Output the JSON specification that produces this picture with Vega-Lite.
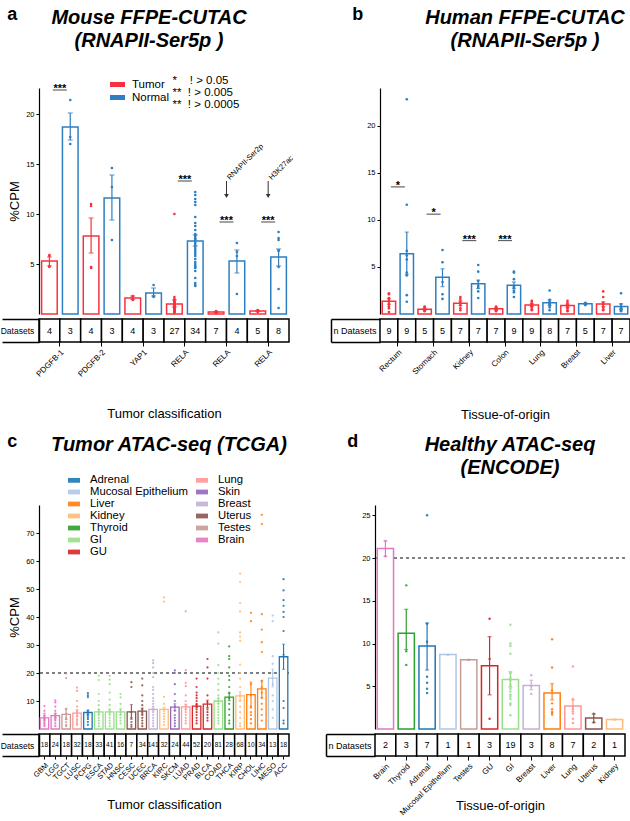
{
"$schema": "https://vega.github.io/schema/vega-lite/v6.json",
"background": "white",
"padding": {"left": 0, "top": 6, "right": 0, "bottom": 0},
"config": {
 "view": {"stroke": null},
 "font": "Liberation Sans",
 "axis": {"labelFont": "Liberation Sans", "titleFont": "Liberation Sans", "labelColor": "#000", "titleColor": "#000", "tickColor": "#000", "domainColor": "#000", "grid": false, "titleFontWeight": "normal"},
 "legend": {"labelFont": "Liberation Sans", "labelColor": "#000", "padding": 0},
 "title": {"font": "Liberation Sans", "color": "#000"}
},
"datasets": {
 "aBars": [
  {"g":"PDGFB-1","c":"Tumor","m":5.3,"lo":4.8,"hi":5.7,"n":4},
  {"g":"PDGFB-1","c":"Normal","m":18.7,"lo":17.4,"hi":20.1,"n":3},
  {"g":"PDGFB-2","c":"Tumor","m":7.8,"lo":6.1,"hi":9.6,"n":4},
  {"g":"PDGFB-2","c":"Normal","m":11.6,"lo":9.4,"hi":13.9,"n":3},
  {"g":"YAP1","c":"Tumor","m":1.6,"lo":1.45,"hi":1.8,"n":4},
  {"g":"YAP1","c":"Normal","m":2.1,"lo":1.8,"hi":2.6,"n":3},
  {"g":"RELA","c":"Tumor","m":1.0,"lo":0.7,"hi":1.4,"n":27},
  {"g":"RELA","c":"Normal","m":7.3,"lo":6.8,"hi":7.9,"n":34},
  {"g":"RELA ","c":"Tumor","m":0.2,"lo":0.15,"hi":0.25,"n":7},
  {"g":"RELA ","c":"Normal","m":5.3,"lo":4.1,"hi":6.4,"n":4},
  {"g":"RELA  ","c":"Tumor","m":0.3,"lo":0.25,"hi":0.35,"n":5},
  {"g":"RELA  ","c":"Normal","m":5.7,"lo":4.8,"hi":6.5,"n":8}
 ],
 "aDots": [
  {"g":"PDGFB-1","c":"Tumor","v":5.9},{"g":"PDGFB-1","c":"Tumor","v":5.8},{"g":"PDGFB-1","c":"Tumor","v":4.8},{"g":"PDGFB-1","c":"Tumor","v":4.7},
  {"g":"PDGFB-1","c":"Normal","v":21.4},{"g":"PDGFB-1","c":"Normal","v":17.7},{"g":"PDGFB-1","c":"Normal","v":17.0},
  {"g":"PDGFB-2","c":"Tumor","v":11.0},{"g":"PDGFB-2","c":"Tumor","v":10.8},{"g":"PDGFB-2","c":"Tumor","v":4.7},{"g":"PDGFB-2","c":"Tumor","v":4.6},
  {"g":"PDGFB-2","c":"Normal","v":14.6},{"g":"PDGFB-2","c":"Normal","v":12.7},{"g":"PDGFB-2","c":"Normal","v":7.4},
  {"g":"YAP1","c":"Tumor","v":1.8},{"g":"YAP1","c":"Tumor","v":1.7},{"g":"YAP1","c":"Tumor","v":1.5},{"g":"YAP1","c":"Tumor","v":1.4},
  {"g":"YAP1","c":"Normal","v":2.9},{"g":"YAP1","c":"Normal","v":1.8},{"g":"YAP1","c":"Normal","v":1.7},
  {"g":"RELA","c":"Tumor","v":10.0},{"g":"RELA","c":"Tumor","v":1.7},{"g":"RELA","c":"Tumor","v":1.5},{"g":"RELA","c":"Tumor","v":1.4},{"g":"RELA","c":"Tumor","v":1.3},{"g":"RELA","c":"Tumor","v":1.2},{"g":"RELA","c":"Tumor","v":1.2},{"g":"RELA","c":"Tumor","v":1.1},{"g":"RELA","c":"Tumor","v":1.0},{"g":"RELA","c":"Tumor","v":1.0},{"g":"RELA","c":"Tumor","v":0.9},{"g":"RELA","c":"Tumor","v":0.9},{"g":"RELA","c":"Tumor","v":0.8},{"g":"RELA","c":"Tumor","v":0.8},{"g":"RELA","c":"Tumor","v":0.7},{"g":"RELA","c":"Tumor","v":0.7},{"g":"RELA","c":"Tumor","v":0.6},{"g":"RELA","c":"Tumor","v":0.6},{"g":"RELA","c":"Tumor","v":0.5},{"g":"RELA","c":"Tumor","v":0.5},{"g":"RELA","c":"Tumor","v":0.4},{"g":"RELA","c":"Tumor","v":0.4},{"g":"RELA","c":"Tumor","v":0.3},{"g":"RELA","c":"Tumor","v":0.3},{"g":"RELA","c":"Tumor","v":0.2},{"g":"RELA","c":"Tumor","v":0.2},{"g":"RELA","c":"Tumor","v":0.1},
  {"g":"RELA","c":"Normal","v":12.2},{"g":"RELA","c":"Normal","v":11.9},{"g":"RELA","c":"Normal","v":11.5},{"g":"RELA","c":"Normal","v":11.2},{"g":"RELA","c":"Normal","v":10.9},{"g":"RELA","c":"Normal","v":9.7},{"g":"RELA","c":"Normal","v":9.1},{"g":"RELA","c":"Normal","v":8.8},{"g":"RELA","c":"Normal","v":8.4},{"g":"RELA","c":"Normal","v":8.0},{"g":"RELA","c":"Normal","v":7.9},{"g":"RELA","c":"Normal","v":7.8},{"g":"RELA","c":"Normal","v":7.6},{"g":"RELA","c":"Normal","v":7.5},{"g":"RELA","c":"Normal","v":7.4},{"g":"RELA","c":"Normal","v":7.2},{"g":"RELA","c":"Normal","v":7.0},{"g":"RELA","c":"Normal","v":6.8},{"g":"RELA","c":"Normal","v":6.6},{"g":"RELA","c":"Normal","v":6.4},{"g":"RELA","c":"Normal","v":6.2},{"g":"RELA","c":"Normal","v":6.0},{"g":"RELA","c":"Normal","v":5.8},{"g":"RELA","c":"Normal","v":5.5},{"g":"RELA","c":"Normal","v":5.2},{"g":"RELA","c":"Normal","v":5.0},{"g":"RELA","c":"Normal","v":4.8},{"g":"RELA","c":"Normal","v":4.7},{"g":"RELA","c":"Normal","v":4.6},{"g":"RELA","c":"Normal","v":4.3},{"g":"RELA","c":"Normal","v":3.6},{"g":"RELA","c":"Normal","v":3.1},{"g":"RELA","c":"Normal","v":2.9},{"g":"RELA","c":"Normal","v":2.8},
  {"g":"RELA ","c":"Tumor","v":0.3},{"g":"RELA ","c":"Tumor","v":0.25},{"g":"RELA ","c":"Tumor","v":0.2},{"g":"RELA ","c":"Tumor","v":0.2},{"g":"RELA ","c":"Tumor","v":0.15},{"g":"RELA ","c":"Tumor","v":0.15},{"g":"RELA ","c":"Tumor","v":0.1},
  {"g":"RELA ","c":"Normal","v":7.1},{"g":"RELA ","c":"Normal","v":6.2},{"g":"RELA ","c":"Normal","v":5.8},{"g":"RELA ","c":"Normal","v":2.0},
  {"g":"RELA  ","c":"Tumor","v":0.4},{"g":"RELA  ","c":"Tumor","v":0.35},{"g":"RELA  ","c":"Tumor","v":0.3},{"g":"RELA  ","c":"Tumor","v":0.25},{"g":"RELA  ","c":"Tumor","v":0.2},
  {"g":"RELA  ","c":"Normal","v":8.2},{"g":"RELA  ","c":"Normal","v":7.6},{"g":"RELA  ","c":"Normal","v":7.4},{"g":"RELA  ","c":"Normal","v":6.4},{"g":"RELA  ","c":"Normal","v":6.3},{"g":"RELA  ","c":"Normal","v":4.7},{"g":"RELA  ","c":"Normal","v":2.5},{"g":"RELA  ","c":"Normal","v":0.6}
 ],
 "aSig": [{"g":"PDGFB-1","y":22.4,"s":"***"},{"g":"RELA","y":13.3,"s":"***"},{"g":"RELA ","y":9.2,"s":"***"},{"g":"RELA  ","y":9.2,"s":"***"}],
 "aArr": [{"g":"RELA ","t":13.3,"b":11.8,"s":"RNAPII-Ser2p"},{"g":"RELA  ","t":13.3,"b":11.8,"s":"H3K27ac"}],
 "aKey": [{"k":"*\u00a0\u00a0\u00a0\u00a0! > 0.05"},{"k":"**\u00a0\u00a0! > 0.005"},{"k":"**\u00a0\u00a0! > 0.0005"}],
 "bBars": [
  {"g":"Rectum","c":"Tumor","m":1.35,"lo":1.05,"hi":1.65,"n":9},
  {"g":"Rectum","c":"Normal","m":6.4,"lo":4.2,"hi":8.7,"n":9},
  {"g":"Stomach","c":"Tumor","m":0.5,"lo":0.4,"hi":0.6,"n":5},
  {"g":"Stomach","c":"Normal","m":3.9,"lo":2.9,"hi":4.8,"n":5},
  {"g":"Kidney","c":"Tumor","m":1.15,"lo":0.9,"hi":1.4,"n":7},
  {"g":"Kidney","c":"Normal","m":3.2,"lo":2.7,"hi":3.6,"n":7},
  {"g":"Colon","c":"Tumor","m":0.55,"lo":0.45,"hi":0.65,"n":7},
  {"g":"Colon","c":"Normal","m":3.05,"lo":2.7,"hi":3.4,"n":9},
  {"g":"Lung","c":"Tumor","m":0.95,"lo":0.8,"hi":1.1,"n":9},
  {"g":"Lung","c":"Normal","m":1.2,"lo":0.9,"hi":1.5,"n":8},
  {"g":"Breast","c":"Tumor","m":0.9,"lo":0.7,"hi":1.05,"n":7},
  {"g":"Breast","c":"Normal","m":1.1,"lo":1.0,"hi":1.15,"n":5},
  {"g":"Liver","c":"Tumor","m":1.05,"lo":0.8,"hi":1.3,"n":7},
  {"g":"Liver","c":"Normal","m":0.8,"lo":0.5,"hi":1.1,"n":7}
 ],
 "bDots": [
  {"g":"Rectum","c":"Tumor","v":2.2},{"g":"Rectum","c":"Tumor","v":2.1},{"g":"Rectum","c":"Tumor","v":1.7},{"g":"Rectum","c":"Tumor","v":1.5},{"g":"Rectum","c":"Tumor","v":1.3},{"g":"Rectum","c":"Tumor","v":1.0},{"g":"Rectum","c":"Tumor","v":0.8},{"g":"Rectum","c":"Tumor","v":0.6},{"g":"Rectum","c":"Tumor","v":0.2},
  {"g":"Rectum","c":"Normal","v":22.8},{"g":"Rectum","c":"Normal","v":11.6},{"g":"Rectum","c":"Normal","v":6.7},{"g":"Rectum","c":"Normal","v":6.2},{"g":"Rectum","c":"Normal","v":5.8},{"g":"Rectum","c":"Normal","v":4.4},{"g":"Rectum","c":"Normal","v":4.1},{"g":"Rectum","c":"Normal","v":2.0},{"g":"Rectum","c":"Normal","v":1.3},
  {"g":"Stomach","c":"Tumor","v":0.8},{"g":"Stomach","c":"Tumor","v":0.7},{"g":"Stomach","c":"Tumor","v":0.5},{"g":"Stomach","c":"Tumor","v":0.4},{"g":"Stomach","c":"Tumor","v":0.3},
  {"g":"Stomach","c":"Normal","v":6.8},{"g":"Stomach","c":"Normal","v":5.5},{"g":"Stomach","c":"Normal","v":3.4},{"g":"Stomach","c":"Normal","v":2.1},{"g":"Stomach","c":"Normal","v":1.6},
  {"g":"Kidney","c":"Tumor","v":1.8},{"g":"Kidney","c":"Tumor","v":1.6},{"g":"Kidney","c":"Tumor","v":1.3},{"g":"Kidney","c":"Tumor","v":1.1},{"g":"Kidney","c":"Tumor","v":0.9},{"g":"Kidney","c":"Tumor","v":0.6},{"g":"Kidney","c":"Tumor","v":0.4},
  {"g":"Kidney","c":"Normal","v":5.2},{"g":"Kidney","c":"Normal","v":4.5},{"g":"Kidney","c":"Normal","v":3.5},{"g":"Kidney","c":"Normal","v":3.0},{"g":"Kidney","c":"Normal","v":2.8},{"g":"Kidney","c":"Normal","v":2.4},{"g":"Kidney","c":"Normal","v":1.7},
  {"g":"Colon","c":"Tumor","v":0.8},{"g":"Colon","c":"Tumor","v":0.7},{"g":"Colon","c":"Tumor","v":0.6},{"g":"Colon","c":"Tumor","v":0.5},{"g":"Colon","c":"Tumor","v":0.4},{"g":"Colon","c":"Tumor","v":0.4},{"g":"Colon","c":"Tumor","v":0.3},
  {"g":"Colon","c":"Normal","v":4.5},{"g":"Colon","c":"Normal","v":4.4},{"g":"Colon","c":"Normal","v":3.7},{"g":"Colon","c":"Normal","v":3.0},{"g":"Colon","c":"Normal","v":2.9},{"g":"Colon","c":"Normal","v":2.8},{"g":"Colon","c":"Normal","v":2.5},{"g":"Colon","c":"Normal","v":2.3},{"g":"Colon","c":"Normal","v":1.8},
  {"g":"Lung","c":"Tumor","v":1.4},{"g":"Lung","c":"Tumor","v":1.3},{"g":"Lung","c":"Tumor","v":1.1},{"g":"Lung","c":"Tumor","v":1.0},{"g":"Lung","c":"Tumor","v":0.9},{"g":"Lung","c":"Tumor","v":0.8},{"g":"Lung","c":"Tumor","v":0.7},{"g":"Lung","c":"Tumor","v":0.5},{"g":"Lung","c":"Tumor","v":0.4},
  {"g":"Lung","c":"Normal","v":2.5},{"g":"Lung","c":"Normal","v":1.5},{"g":"Lung","c":"Normal","v":1.3},{"g":"Lung","c":"Normal","v":1.1},{"g":"Lung","c":"Normal","v":1.0},{"g":"Lung","c":"Normal","v":0.9},{"g":"Lung","c":"Normal","v":0.7},{"g":"Lung","c":"Normal","v":0.4},
  {"g":"Breast","c":"Tumor","v":1.4},{"g":"Breast","c":"Tumor","v":1.2},{"g":"Breast","c":"Tumor","v":1.0},{"g":"Breast","c":"Tumor","v":0.8},{"g":"Breast","c":"Tumor","v":0.6},{"g":"Breast","c":"Tumor","v":0.4},{"g":"Breast","c":"Tumor","v":0.3},
  {"g":"Breast","c":"Normal","v":1.2},{"g":"Breast","c":"Normal","v":1.1},{"g":"Breast","c":"Normal","v":1.05},{"g":"Breast","c":"Normal","v":1.0},{"g":"Breast","c":"Normal","v":0.95},
  {"g":"Liver","c":"Tumor","v":2.4},{"g":"Liver","c":"Tumor","v":1.8},{"g":"Liver","c":"Tumor","v":1.2},{"g":"Liver","c":"Tumor","v":1.0},{"g":"Liver","c":"Tumor","v":0.7},{"g":"Liver","c":"Tumor","v":0.5},{"g":"Liver","c":"Tumor","v":0.4},
  {"g":"Liver","c":"Normal","v":2.2},{"g":"Liver","c":"Normal","v":1.0},{"g":"Liver","c":"Normal","v":0.7},{"g":"Liver","c":"Normal","v":0.6},{"g":"Liver","c":"Normal","v":0.5},{"g":"Liver","c":"Normal","v":0.4},{"g":"Liver","c":"Normal","v":0.3}
 ],
 "bSig": [{"g":"Rectum","y":13.5,"s":"*"},{"g":"Stomach","y":10.6,"s":"*"},{"g":"Kidney","y":7.8,"s":"***"},{"g":"Colon","y":7.8,"s":"***"}],
 "cBars": [
  {"t":"GBM","s":"Brain","m":4.0,"lo":3.2,"hi":4.8,"n":18},
  {"t":"LGG","s":"Brain","m":4.8,"lo":4.0,"hi":5.6,"n":24},
  {"t":"TGCT","s":"Testes","m":5.2,"lo":3.4,"hi":7.4,"n":18},
  {"t":"LUSC","s":"Lung","m":5.7,"lo":4.6,"hi":6.9,"n":32},
  {"t":"PCPG","s":"Adrenal","m":5.9,"lo":5.0,"hi":6.8,"n":18},
  {"t":"ESCA","s":"GI","m":6.1,"lo":5.3,"hi":6.9,"n":33},
  {"t":"STAD","s":"GI","m":6.1,"lo":5.4,"hi":6.8,"n":41},
  {"t":"HNSC","s":"GI","m":6.1,"lo":5.1,"hi":7.1,"n":16},
  {"t":"CESC","s":"Uterus","m":6.1,"lo":3.5,"hi":8.7,"n":7},
  {"t":"UCEC","s":"Uterus","m":6.4,"lo":5.3,"hi":7.5,"n":34},
  {"t":"BRCA","s":"Breast","m":7.0,"lo":6.5,"hi":7.5,"n":141},
  {"t":"KIRC","s":"Kidney","m":7.0,"lo":6.3,"hi":7.8,"n":32},
  {"t":"SKCM","s":"Skin","m":7.8,"lo":6.6,"hi":9.0,"n":24},
  {"t":"LUAD","s":"Lung","m":7.9,"lo":6.9,"hi":8.9,"n":44},
  {"t":"PRAD","s":"GU","m":8.2,"lo":7.6,"hi":8.8,"n":52},
  {"t":"BLCA","s":"GU","m":8.9,"lo":7.6,"hi":10.3,"n":20},
  {"t":"COAD","s":"GI","m":10.0,"lo":9.1,"hi":10.9,"n":81},
  {"t":"THCA","s":"Thyroid","m":11.4,"lo":10.1,"hi":12.7,"n":28},
  {"t":"KIRP","s":"Kidney","m":11.8,"lo":10.2,"hi":13.3,"n":68},
  {"t":"CHOL","s":"Liver","m":12.3,"lo":7.5,"hi":16.8,"n":10},
  {"t":"LIHC","s":"Liver","m":14.3,"lo":11.3,"hi":17.4,"n":34},
  {"t":"MESO","s":"Mucosal Epithelium","m":18.2,"lo":15.0,"hi":21.4,"n":13},
  {"t":"ACC","s":"Adrenal","m":25.8,"lo":21.3,"hi":30.3,"n":18}
 ],
 "cDots": [
  {"t":"GBM","v":8.2},{"t":"GBM","v":6.5},{"t":"GBM","v":5.5},{"t":"GBM","v":4.8},{"t":"GBM","v":4.2},{"t":"GBM","v":3.8},{"t":"GBM","v":3.5},{"t":"GBM","v":3.0},{"t":"GBM","v":2.5},{"t":"GBM","v":2.0},{"t":"GBM","v":1.5},{"t":"GBM","v":1.0},
  {"t":"LGG","v":10.2},{"t":"LGG","v":9.5},{"t":"LGG","v":8.0},{"t":"LGG","v":6.5},{"t":"LGG","v":5.5},{"t":"LGG","v":5.0},{"t":"LGG","v":4.5},{"t":"LGG","v":4.0},{"t":"LGG","v":3.5},{"t":"LGG","v":3.0},{"t":"LGG","v":2.0},{"t":"LGG","v":1.0},
  {"t":"TGCT","v":19.8},{"t":"TGCT","v":18.2},{"t":"TGCT","v":7.0},{"t":"TGCT","v":5.5},{"t":"TGCT","v":4.0},{"t":"TGCT","v":3.5},{"t":"TGCT","v":2.5},{"t":"TGCT","v":1.5},{"t":"TGCT","v":1.0},
  {"t":"LUSC","v":14.8},{"t":"LUSC","v":13.6},{"t":"LUSC","v":10.0},{"t":"LUSC","v":8.0},{"t":"LUSC","v":6.5},{"t":"LUSC","v":5.5},{"t":"LUSC","v":4.5},{"t":"LUSC","v":3.5},{"t":"LUSC","v":2.8},{"t":"LUSC","v":2.0},{"t":"LUSC","v":1.5},
  {"t":"PCPG","v":12.8},{"t":"PCPG","v":12.0},{"t":"PCPG","v":11.4},{"t":"PCPG","v":6.4},{"t":"PCPG","v":5.8},{"t":"PCPG","v":5.0},{"t":"PCPG","v":4.2},{"t":"PCPG","v":3.5},{"t":"PCPG","v":2.5},{"t":"PCPG","v":1.5},
  {"t":"ESCA","v":19.0},{"t":"ESCA","v":17.5},{"t":"ESCA","v":12.5},{"t":"ESCA","v":10.0},{"t":"ESCA","v":8.5},{"t":"ESCA","v":7.0},{"t":"ESCA","v":6.0},{"t":"ESCA","v":5.0},{"t":"ESCA","v":4.0},{"t":"ESCA","v":3.0},{"t":"ESCA","v":2.0},{"t":"ESCA","v":1.0},
  {"t":"STAD","v":19.0},{"t":"STAD","v":17.6},{"t":"STAD","v":16.0},{"t":"STAD","v":13.0},{"t":"STAD","v":10.5},{"t":"STAD","v":8.5},{"t":"STAD","v":7.0},{"t":"STAD","v":6.0},{"t":"STAD","v":5.0},{"t":"STAD","v":4.0},{"t":"STAD","v":3.0},{"t":"STAD","v":2.0},{"t":"STAD","v":1.0},
  {"t":"HNSC","v":12.5},{"t":"HNSC","v":11.3},{"t":"HNSC","v":9.0},{"t":"HNSC","v":7.0},{"t":"HNSC","v":6.0},{"t":"HNSC","v":5.0},{"t":"HNSC","v":4.0},{"t":"HNSC","v":3.0},{"t":"HNSC","v":2.0},
  {"t":"CESC","v":16.7},{"t":"CESC","v":15.0},{"t":"CESC","v":6.0},{"t":"CESC","v":4.0},{"t":"CESC","v":2.5},{"t":"CESC","v":1.5},{"t":"CESC","v":0.8},
  {"t":"UCEC","v":18.0},{"t":"UCEC","v":15.6},{"t":"UCEC","v":12.0},{"t":"UCEC","v":10.0},{"t":"UCEC","v":8.5},{"t":"UCEC","v":7.0},{"t":"UCEC","v":6.0},{"t":"UCEC","v":5.0},{"t":"UCEC","v":4.0},{"t":"UCEC","v":3.0},{"t":"UCEC","v":2.0},{"t":"UCEC","v":1.0},
  {"t":"BRCA","v":24.5},{"t":"BRCA","v":23.5},{"t":"BRCA","v":22.0},{"t":"BRCA","v":20.0},{"t":"BRCA","v":18.5},{"t":"BRCA","v":15.0},{"t":"BRCA","v":14.0},{"t":"BRCA","v":12.5},{"t":"BRCA","v":11.0},{"t":"BRCA","v":10.0},{"t":"BRCA","v":9.0},{"t":"BRCA","v":8.0},{"t":"BRCA","v":7.0},{"t":"BRCA","v":6.0},{"t":"BRCA","v":5.0},{"t":"BRCA","v":4.0},{"t":"BRCA","v":3.0},{"t":"BRCA","v":2.0},{"t":"BRCA","v":1.0},
  {"t":"KIRC","v":47.0},{"t":"KIRC","v":45.5},{"t":"KIRC","v":11.5},{"t":"KIRC","v":9.0},{"t":"KIRC","v":7.0},{"t":"KIRC","v":5.5},{"t":"KIRC","v":4.5},{"t":"KIRC","v":3.5},{"t":"KIRC","v":2.5},{"t":"KIRC","v":1.5},
  {"t":"SKCM","v":20.9},{"t":"SKCM","v":20.0},{"t":"SKCM","v":16.0},{"t":"SKCM","v":12.5},{"t":"SKCM","v":10.0},{"t":"SKCM","v":8.0},{"t":"SKCM","v":6.5},{"t":"SKCM","v":5.0},{"t":"SKCM","v":4.0},{"t":"SKCM","v":3.0},{"t":"SKCM","v":2.0},{"t":"SKCM","v":1.0},
  {"t":"LUAD","v":42.0},{"t":"LUAD","v":21.0},{"t":"LUAD","v":16.5},{"t":"LUAD","v":15.3},{"t":"LUAD","v":12.0},{"t":"LUAD","v":10.0},{"t":"LUAD","v":8.5},{"t":"LUAD","v":7.0},{"t":"LUAD","v":6.0},{"t":"LUAD","v":5.0},{"t":"LUAD","v":4.0},{"t":"LUAD","v":3.0},{"t":"LUAD","v":2.0},
  {"t":"PRAD","v":18.0},{"t":"PRAD","v":15.0},{"t":"PRAD","v":13.0},{"t":"PRAD","v":12.0},{"t":"PRAD","v":11.0},{"t":"PRAD","v":10.0},{"t":"PRAD","v":9.0},{"t":"PRAD","v":8.0},{"t":"PRAD","v":7.0},{"t":"PRAD","v":6.0},{"t":"PRAD","v":5.0},{"t":"PRAD","v":4.0},{"t":"PRAD","v":3.0},{"t":"PRAD","v":2.0},
  {"t":"BLCA","v":25.0},{"t":"BLCA","v":22.0},{"t":"BLCA","v":18.0},{"t":"BLCA","v":12.0},{"t":"BLCA","v":9.5},{"t":"BLCA","v":7.0},{"t":"BLCA","v":6.0},{"t":"BLCA","v":5.0},{"t":"BLCA","v":4.0},{"t":"BLCA","v":3.0},
  {"t":"COAD","v":34.5},{"t":"COAD","v":30.5},{"t":"COAD","v":22.8},{"t":"COAD","v":20.0},{"t":"COAD","v":18.0},{"t":"COAD","v":16.0},{"t":"COAD","v":14.0},{"t":"COAD","v":12.0},{"t":"COAD","v":11.0},{"t":"COAD","v":10.0},{"t":"COAD","v":9.0},{"t":"COAD","v":8.0},{"t":"COAD","v":7.0},{"t":"COAD","v":6.0},{"t":"COAD","v":5.0},{"t":"COAD","v":4.0},{"t":"COAD","v":3.0},{"t":"COAD","v":2.0},
  {"t":"THCA","v":29.5},{"t":"THCA","v":26.0},{"t":"THCA","v":25.0},{"t":"THCA","v":22.0},{"t":"THCA","v":19.0},{"t":"THCA","v":17.5},{"t":"THCA","v":15.0},{"t":"THCA","v":13.0},{"t":"THCA","v":11.0},{"t":"THCA","v":9.0},{"t":"THCA","v":7.0},{"t":"THCA","v":5.0},{"t":"THCA","v":3.0},{"t":"THCA","v":2.0},
  {"t":"KIRP","v":55.5},{"t":"KIRP","v":52.5},{"t":"KIRP","v":45.0},{"t":"KIRP","v":42.0},{"t":"KIRP","v":34.5},{"t":"KIRP","v":33.0},{"t":"KIRP","v":31.5},{"t":"KIRP","v":23.0},{"t":"KIRP","v":20.0},{"t":"KIRP","v":18.0},{"t":"KIRP","v":15.0},{"t":"KIRP","v":12.0},{"t":"KIRP","v":10.0},{"t":"KIRP","v":8.0},{"t":"KIRP","v":6.0},{"t":"KIRP","v":4.0},{"t":"KIRP","v":2.0},{"t":"KIRP","v":1.0},
  {"t":"CHOL","v":41.5},{"t":"CHOL","v":38.5},{"t":"CHOL","v":16.0},{"t":"CHOL","v":12.0},{"t":"CHOL","v":8.0},{"t":"CHOL","v":6.0},{"t":"CHOL","v":5.0},{"t":"CHOL","v":3.5},{"t":"CHOL","v":2.0},
  {"t":"LIHC","v":76.5},{"t":"LIHC","v":73.2},{"t":"LIHC","v":41.0},{"t":"LIHC","v":35.5},{"t":"LIHC","v":31.0},{"t":"LIHC","v":27.5},{"t":"LIHC","v":17.0},{"t":"LIHC","v":15.0},{"t":"LIHC","v":13.0},{"t":"LIHC","v":11.0},{"t":"LIHC","v":9.0},{"t":"LIHC","v":7.0},{"t":"LIHC","v":5.0},{"t":"LIHC","v":3.0},
  {"t":"MESO","v":40.5},{"t":"MESO","v":38.5},{"t":"MESO","v":26.0},{"t":"MESO","v":23.3},{"t":"MESO","v":20.0},{"t":"MESO","v":16.0},{"t":"MESO","v":12.0},{"t":"MESO","v":10.0},{"t":"MESO","v":7.0},{"t":"MESO","v":4.0},
  {"t":"ACC","v":53.5},{"t":"ACC","v":49.5},{"t":"ACC","v":46.0},{"t":"ACC","v":44.0},{"t":"ACC","v":41.8},{"t":"ACC","v":40.0},{"t":"ACC","v":35.0},{"t":"ACC","v":26.5},{"t":"ACC","v":10.0},{"t":"ACC","v":7.5},{"t":"ACC","v":3.0},{"t":"ACC","v":2.0}
 ],
 "dBars": [
  {"s":"Brain","m":21.1,"lo":20.2,"hi":22.0,"n":2},
  {"s":"Thyroid","m":11.2,"lo":9.3,"hi":14.0,"n":3},
  {"s":"Adrenal","m":9.7,"lo":6.9,"hi":12.4,"n":7},
  {"s":"Mucosal Epithelium","m":8.7,"lo":8.7,"hi":8.7,"n":1},
  {"s":"Testes","m":8.1,"lo":8.1,"hi":8.1,"n":1},
  {"s":"GU","m":7.4,"lo":4.0,"hi":10.8,"n":3},
  {"s":"GI","m":5.8,"lo":4.9,"hi":6.7,"n":19},
  {"s":"Breast","m":5.1,"lo":4.6,"hi":5.7,"n":3},
  {"s":"Liver","m":4.2,"lo":3.4,"hi":5.3,"n":8},
  {"s":"Lung","m":2.7,"lo":2.0,"hi":3.4,"n":7},
  {"s":"Uterus","m":1.3,"lo":0.75,"hi":1.75,"n":2},
  {"s":"Kidney","m":1.1,"lo":1.1,"hi":1.1,"n":1}
 ],
 "dDots": [
  {"s":"Brain","v":22.0},{"s":"Brain","v":20.2},
  {"s":"Thyroid","v":16.8},{"s":"Thyroid","v":9.1},{"s":"Thyroid","v":7.5},
  {"s":"Adrenal","v":25.0},{"s":"Adrenal","v":12.3},{"s":"Adrenal","v":10.2},{"s":"Adrenal","v":6.1},{"s":"Adrenal","v":5.4},{"s":"Adrenal","v":4.7},{"s":"Adrenal","v":4.2},
  {"s":"Mucosal Epithelium","v":8.7},
  {"s":"Testes","v":8.1},
  {"s":"GU","v":12.9},{"s":"GU","v":8.2},{"s":"GU","v":1.2},
  {"s":"GI","v":12.2},{"s":"GI","v":10.0},{"s":"GI","v":9.7},{"s":"GI","v":8.8},{"s":"GI","v":6.6},{"s":"GI","v":6.5},{"s":"GI","v":6.0},{"s":"GI","v":5.8},{"s":"GI","v":5.6},{"s":"GI","v":5.2},{"s":"GI","v":5.0},{"s":"GI","v":4.7},{"s":"GI","v":4.4},{"s":"GI","v":4.0},{"s":"GI","v":3.8},{"s":"GI","v":3.5},{"s":"GI","v":3.0},{"s":"GI","v":2.8},{"s":"GI","v":1.6},
  {"s":"Breast","v":6.3},{"s":"Breast","v":5.0},{"s":"Breast","v":4.1},
  {"s":"Liver","v":10.5},{"s":"Liver","v":7.2},{"s":"Liver","v":4.5},{"s":"Liver","v":3.0},{"s":"Liver","v":2.3},{"s":"Liver","v":2.0},{"s":"Liver","v":1.9},{"s":"Liver","v":1.7},
  {"s":"Lung","v":7.3},{"s":"Lung","v":3.5},{"s":"Lung","v":2.6},{"s":"Lung","v":2.3},{"s":"Lung","v":1.8},{"s":"Lung","v":1.2},{"s":"Lung","v":0.7},
  {"s":"Uterus","v":1.8},{"s":"Uterus","v":0.8},
  {"s":"Kidney","v":1.1}
 ],
 "thr": [{"y":20}]
},
"vconcat": [
 {"hconcat": [
  {"title": {"text": "a", "anchor": "start", "fontSize": 18, "fontWeight": "bold", "dx": 7, "dy": 16, "offset": 0},
   "spacing": 0,
   "resolve": {"scale": {"x": "independent", "y": "independent", "xOffset": "independent", "color": "independent", "stroke": "independent", "shape": "independent"}},
   "vconcat": [
    {"width": 250, "height": 226,
     "title": {"text": ["Mouse FFPE-CUTAC", "(RNAPII-Ser5p )"], "fontSize": 20, "fontStyle": "italic", "fontWeight": "bold", "lineHeight": 23, "anchor": "middle", "frame": "group", "dx": -15, "offset": 24},
     "resolve": {"axis": {"y": "independent"}, "legend": {"color": "independent"}},
     "layer": [
      {"data": {"name": "aBars"}, "mark": {"type": "bar", "fill": "white", "strokeWidth": 1.5},
       "encoding": {
        "x": {"field": "g", "type": "nominal", "scale": {"domain": ["PDGFB-1","PDGFB-2","YAP1","RELA","RELA ","RELA  "], "paddingInner": 0, "paddingOuter": 0}, "axis": null},
        "xOffset": {"field": "c", "type": "nominal", "scale": {"domain": ["Tumor","Normal"], "paddingInner": 0.25, "paddingOuter": 0.125}},
        "y": {"field": "m", "type": "quantitative", "scale": {"domain": [0, 22.6], "nice": false}, "axis": {"values": [5,10,15,20], "title": "%CPM", "titleFontSize": 13, "labelFontSize": 7.5, "tickSize": 3, "labelPadding": 2, "titlePadding": 4, "domainWidth": 1.2}},
        "stroke": {"field": "c", "type": "nominal", "scale": {"domain": ["Tumor","Normal"], "range": ["#f7323e","#2d7fc1"]}, "legend": null}}},
      {"data": {"name": "aBars"}, "mark": {"type": "rule", "strokeWidth": 1.2},
       "encoding": {
        "x": {"field": "g", "type": "nominal", "axis": null},
        "xOffset": {"field": "c", "type": "nominal"},
        "y": {"field": "lo", "type": "quantitative", "axis": null}, "y2": {"field": "hi"},
        "color": {"field": "c", "type": "nominal", "scale": {"domain": ["Tumor","Normal"], "range": ["#f7323e","#2d7fc1"]}, "legend": null}}},
      {"data": {"name": "aBars"}, "mark": {"type": "tick", "size": 5, "thickness": 1.2},
       "encoding": {
        "x": {"field": "g", "type": "nominal", "axis": null},
        "xOffset": {"field": "c", "type": "nominal"},
        "y": {"field": "lo", "type": "quantitative", "axis": null},
        "color": {"field": "c", "type": "nominal", "legend": null}}},
      {"data": {"name": "aBars"}, "mark": {"type": "tick", "size": 5, "thickness": 1.2},
       "encoding": {
        "x": {"field": "g", "type": "nominal", "axis": null},
        "xOffset": {"field": "c", "type": "nominal"},
        "y": {"field": "hi", "type": "quantitative", "axis": null},
        "color": {"field": "c", "type": "nominal", "legend": null}}},
      {"data": {"name": "aDots"}, "mark": {"type": "circle", "size": 7, "opacity": 1},
       "encoding": {
        "x": {"field": "g", "type": "nominal", "axis": null},
        "xOffset": {"field": "c", "type": "nominal"},
        "y": {"field": "v", "type": "quantitative", "axis": null},
        "color": {"field": "c", "type": "nominal", "legend": {"title": null, "orient": "none", "legendX": 71, "legendY": -11, "symbolType": "M-1,-0.33H1V0.33H-1Z", "symbolSize": 225, "symbolStrokeWidth": 0, "labelFontSize": 11.5, "rowPadding": -2, "labelOffset": 7}}}},
      {"data": {"name": "aSig"}, "mark": {"type": "tick", "size": 14, "thickness": 1.2, "color": "#222"},
       "encoding": {"x": {"field": "g", "type": "nominal", "axis": null}, "y": {"field": "y", "type": "quantitative", "axis": null}}},
      {"data": {"name": "aSig"}, "mark": {"type": "text", "fontSize": 11, "fontWeight": "bold", "baseline": "alphabetic", "dy": 2},
       "encoding": {"x": {"field": "g", "type": "nominal", "axis": null}, "y": {"field": "y", "type": "quantitative", "axis": null}, "text": {"field": "s"}}},
      {"data": {"name": "aArr"}, "mark": {"type": "rule", "strokeWidth": 1, "color": "#333"},
       "encoding": {"x": {"field": "g", "type": "nominal", "axis": null}, "y": {"field": "t", "type": "quantitative", "axis": null}, "y2": {"field": "b"}}},
      {"data": {"name": "aArr"}, "mark": {"type": "point", "shape": "triangle-down", "filled": true, "size": 22, "color": "#333", "opacity": 1},
       "encoding": {"x": {"field": "g", "type": "nominal", "axis": null}, "y": {"field": "b", "type": "quantitative", "axis": null}}},
      {"data": {"name": "aArr"}, "mark": {"type": "text", "angle": 315, "align": "left", "baseline": "middle", "fontSize": 7.5, "dx": 3},
       "encoding": {"x": {"field": "g", "type": "nominal", "axis": null}, "y": {"field": "t", "type": "quantitative", "axis": null}, "text": {"field": "s"}}},
      {"data": {"name": "aKey"}, "mark": {"type": "point", "opacity": 0},
       "encoding": {"shape": {"field": "k", "type": "nominal", "scale": {"domain": ["*\u00a0\u00a0\u00a0\u00a0! > 0.05","**\u00a0\u00a0! > 0.005","**\u00a0\u00a0! > 0.0005"]}, "legend": {"title": null, "orient": "none", "legendX": 122, "legendY": -13, "symbolOpacity": 0, "symbolSize": 1, "labelFontSize": 11.5, "rowPadding": -2, "labelOffset": 0}}}}
     ]},
    {"width": 250, "height": 23, "data": {"name": "aBars"},
     "encoding": {
      "x": {"field": "g", "type": "nominal", "scale": {"domain": ["PDGFB-1","PDGFB-2","YAP1","RELA","RELA ","RELA  "], "paddingInner": 0, "paddingOuter": 0}, "axis": {"labelAngle": -45, "labelFontSize": 8, "title": "Tumor classification", "titleFontSize": 13, "titleY": 65, "domain": false, "tickSize": 4, "labelPadding": 2}},
      "xOffset": {"field": "c", "type": "nominal", "scale": {"domain": ["Tumor","Normal"], "paddingInner": 0, "paddingOuter": 0}},
      "y": {"datum": "Datasets", "type": "nominal", "scale": {"paddingInner": 0, "paddingOuter": 0}, "axis": {"title": null, "tickBand": "extent", "tickSize": 37, "tickWidth": 1.5, "domain": true, "domainWidth": 1.5, "labelAlign": "center", "labelPadding": -15, "labelFontSize": 8.5, "labelBaseline": "middle"}}},
     "layer": [
      {"mark": {"type": "rect", "fill": "white", "stroke": "#000", "strokeWidth": 1.5}},
      {"mark": {"type": "text", "fontSize": 9, "color": "#000"}, "encoding": {"text": {"field": "n"}}}
     ]}
   ]},
  {"title": {"text": "b", "anchor": "start", "fontSize": 18, "fontWeight": "bold", "dx": 22, "dy": 16, "offset": 0},
   "spacing": 0,
   "resolve": {"scale": {"x": "independent", "y": "independent", "xOffset": "independent", "color": "independent", "stroke": "independent"}},
   "vconcat": [
    {"width": 250, "height": 226,
     "title": {"text": ["Human FFPE-CUTAC", "(RNAPII-Ser5p )"], "fontSize": 20, "fontStyle": "italic", "fontWeight": "bold", "lineHeight": 23, "anchor": "middle", "frame": "group", "dx": 20, "offset": 37},
     "resolve": {"axis": {"y": "independent"}},
     "layer": [
      {"data": {"name": "bBars"}, "mark": {"type": "bar", "fill": "white", "strokeWidth": 1.5},
       "encoding": {
        "x": {"field": "g", "type": "nominal", "scale": {"domain": ["Rectum","Stomach","Kidney","Colon","Lung","Breast","Liver"], "paddingInner": 0, "paddingOuter": 0}, "axis": null},
        "xOffset": {"field": "c", "type": "nominal", "scale": {"domain": ["Tumor","Normal"], "paddingInner": 0.25, "paddingOuter": 0.125}},
        "y": {"field": "m", "type": "quantitative", "scale": {"domain": [0, 24], "nice": false}, "axis": {"values": [5,10,15,20], "title": null, "labelFontSize": 7.5, "tickSize": 3, "labelPadding": 2, "domainWidth": 1.2}},
        "stroke": {"field": "c", "type": "nominal", "scale": {"domain": ["Tumor","Normal"], "range": ["#f7323e","#2d7fc1"]}, "legend": null}}},
      {"data": {"name": "bBars"}, "mark": {"type": "rule", "strokeWidth": 1.2},
       "encoding": {
        "x": {"field": "g", "type": "nominal", "axis": null},
        "xOffset": {"field": "c", "type": "nominal"},
        "y": {"field": "lo", "type": "quantitative", "axis": null}, "y2": {"field": "hi"},
        "color": {"field": "c", "type": "nominal", "scale": {"domain": ["Tumor","Normal"], "range": ["#f7323e","#2d7fc1"]}, "legend": null}}},
      {"data": {"name": "bBars"}, "mark": {"type": "tick", "size": 4, "thickness": 1.2},
       "encoding": {"x": {"field": "g", "type": "nominal", "axis": null}, "xOffset": {"field": "c", "type": "nominal"}, "y": {"field": "lo", "type": "quantitative", "axis": null}, "color": {"field": "c", "type": "nominal", "legend": null}}},
      {"data": {"name": "bBars"}, "mark": {"type": "tick", "size": 4, "thickness": 1.2},
       "encoding": {"x": {"field": "g", "type": "nominal", "axis": null}, "xOffset": {"field": "c", "type": "nominal"}, "y": {"field": "hi", "type": "quantitative", "axis": null}, "color": {"field": "c", "type": "nominal", "legend": null}}},
      {"data": {"name": "bDots"}, "mark": {"type": "circle", "size": 7, "opacity": 1},
       "encoding": {"x": {"field": "g", "type": "nominal", "axis": null}, "xOffset": {"field": "c", "type": "nominal"}, "y": {"field": "v", "type": "quantitative", "axis": null}, "color": {"field": "c", "type": "nominal", "legend": null}}},
      {"data": {"name": "bSig"}, "mark": {"type": "tick", "size": 14, "thickness": 1.2, "color": "#222"},
       "encoding": {"x": {"field": "g", "type": "nominal", "axis": null}, "y": {"field": "y", "type": "quantitative", "axis": null}}},
      {"data": {"name": "bSig"}, "mark": {"type": "text", "fontSize": 11, "fontWeight": "bold", "baseline": "alphabetic", "dy": 2},
       "encoding": {"x": {"field": "g", "type": "nominal", "axis": null}, "y": {"field": "y", "type": "quantitative", "axis": null}, "text": {"field": "s"}}}
     ]},
    {"width": 250, "height": 23, "data": {"name": "bBars"},
     "encoding": {
      "x": {"field": "g", "type": "nominal", "scale": {"domain": ["Rectum","Stomach","Kidney","Colon","Lung","Breast","Liver"], "paddingInner": 0, "paddingOuter": 0}, "axis": {"labelAngle": -45, "labelFontSize": 8, "title": "Tissue-of-origin", "titleFontSize": 13, "titleY": 66, "domain": false, "tickSize": 4, "labelPadding": 2}},
      "xOffset": {"field": "c", "type": "nominal", "scale": {"domain": ["Tumor","Normal"], "paddingInner": 0, "paddingOuter": 0}},
      "y": {"datum": "n Datasets", "type": "nominal", "scale": {"paddingInner": 0, "paddingOuter": 0}, "axis": {"title": null, "tickBand": "extent", "offset": 49, "tickSize": -49, "tickWidth": 1.5, "domain": true, "domainWidth": 1.5, "labelAlign": "center", "labelPadding": 25.5, "labelFontSize": 9, "labelBaseline": "middle"}}},
     "layer": [
      {"mark": {"type": "rect", "fill": "white", "stroke": "#000", "strokeWidth": 1.5}},
      {"mark": {"type": "text", "fontSize": 9, "color": "#000"}, "encoding": {"text": {"field": "n"}}}
     ]}
   ]}
 ], "spacing": 35,
 "resolve": {"scale": {"x": "independent", "y": "independent", "color": "independent", "stroke": "independent"}}},
 {"hconcat": [
  {"title": {"text": "c", "anchor": "start", "fontSize": 18, "fontWeight": "bold", "dx": 7, "dy": 16, "offset": 0},
   "spacing": 0,
   "resolve": {"scale": {"x": "independent", "y": "independent", "color": "independent", "stroke": "independent"}},
   "vconcat": [
    {"width": 250, "height": 224,
     "title": {"text": "Tumor ATAC-seq (TCGA)", "fontSize": 20, "fontStyle": "italic", "fontWeight": "bold", "anchor": "middle", "frame": "group", "dx": 5, "offset": 19},
     "resolve": {"axis": {"y": "independent"}, "legend": {"color": "independent"}},
     "layer": [
      {"data": {"name": "thr"}, "mark": {"type": "rule", "strokeDash": [3,3], "strokeWidth": 1.2, "color": "#000"},
       "encoding": {"y": {"field": "y", "type": "quantitative", "axis": null}}},
      {"data": {"name": "cBars"}, "mark": {"type": "bar", "fill": "white", "strokeWidth": 1.3},
       "encoding": {
        "x": {"field": "t", "type": "nominal", "scale": {"domain": ["GBM","LGG","TGCT","LUSC","PCPG","ESCA","STAD","HNSC","CESC","UCEC","BRCA","KIRC","SKCM","LUAD","PRAD","BLCA","COAD","THCA","KIRP","CHOL","LIHC","MESO","ACC"], "paddingInner": 0.22, "paddingOuter": 0.11}, "axis": null},
        "y": {"field": "m", "type": "quantitative", "scale": {"domain": [0, 80], "nice": false}, "axis": {"values": [10,20,30,40,50,60,70], "title": "%CPM", "titleFontSize": 13, "labelFontSize": 7.5, "tickSize": 3, "labelPadding": 2, "titlePadding": 4, "domainWidth": 1.2}},
        "stroke": {"field": "s", "type": "nominal", "scale": {"domain": ["Adrenal","Mucosal Epithelium","Liver","Kidney","Thyroid","GI","GU","Lung","Skin","Breast","Uterus","Testes","Brain"], "range": ["#1f77b4","#aec7e8","#ff7f0e","#ffbb78","#2ca02c","#98df8a","#d62728","#ff9896","#9467bd","#c5b0d5","#8c564b","#c49c94","#e377c2"]}, "legend": null}}},
      {"data": {"name": "cDots"}, "transform": [{"lookup": "t", "from": {"data": {"name": "cBars"}, "key": "t", "fields": ["s"]}}],
       "mark": {"type": "circle", "size": 5, "opacity": 0.9},
       "encoding": {
        "x": {"field": "t", "type": "nominal", "axis": null},
        "y": {"field": "v", "type": "quantitative", "axis": null},
        "color": {"field": "s", "type": "nominal", "scale": {"domain": ["Adrenal","Mucosal Epithelium","Liver","Kidney","Thyroid","GI","GU","Lung","Skin","Breast","Uterus","Testes","Brain"], "range": ["#1f77b4","#aec7e8","#ff7f0e","#ffbb78","#2ca02c","#98df8a","#d62728","#ff9896","#9467bd","#c5b0d5","#8c564b","#c49c94","#e377c2"]},
         "legend": {"title": null, "orient": "none", "legendX": 29, "legendY": -31, "columns": 2, "columnPadding": 8, "symbolType": "M-1,-0.4H1V0.4H-1Z", "symbolSize": 144, "symbolStrokeWidth": 0, "symbolOpacity": 0.9, "labelFontSize": 11.3, "rowPadding": -0.5, "labelOffset": 10}}}},
      {"data": {"name": "cBars"}, "mark": {"type": "rule", "strokeWidth": 1.1},
       "encoding": {"x": {"field": "t", "type": "nominal", "axis": null}, "y": {"field": "lo", "type": "quantitative", "axis": null}, "y2": {"field": "hi"}, "color": {"field": "s", "type": "nominal", "legend": null}}},
      {"data": {"name": "cBars"}, "mark": {"type": "tick", "size": 3, "thickness": 1},
       "encoding": {"x": {"field": "t", "type": "nominal", "axis": null}, "y": {"field": "lo", "type": "quantitative", "axis": null}, "color": {"field": "s", "type": "nominal", "legend": null}}},
      {"data": {"name": "cBars"}, "mark": {"type": "tick", "size": 3, "thickness": 1},
       "encoding": {"x": {"field": "t", "type": "nominal", "axis": null}, "y": {"field": "hi", "type": "quantitative", "axis": null}, "color": {"field": "s", "type": "nominal", "legend": null}}}
     ]},
    {"width": 250, "height": 22, "data": {"name": "cBars"},
     "encoding": {
      "x": {"field": "t", "type": "nominal", "scale": {"domain": ["GBM","LGG","TGCT","LUSC","PCPG","ESCA","STAD","HNSC","CESC","UCEC","BRCA","KIRC","SKCM","LUAD","PRAD","BLCA","COAD","THCA","KIRP","CHOL","LIHC","MESO","ACC"], "paddingInner": 0, "paddingOuter": 0}, "axis": {"labelAngle": -45, "labelFontSize": 7.5, "title": "Tumor classification", "titleFontSize": 13, "titleY": 42, "domain": false, "tickSize": 3, "labelPadding": 2}},
      "y": {"datum": "Datasets", "type": "nominal", "scale": {"paddingInner": 0, "paddingOuter": 0}, "axis": {"title": null, "tickBand": "extent", "tickSize": 37, "tickWidth": 1.5, "domain": true, "domainWidth": 1.5, "labelAlign": "center", "labelPadding": -15, "labelFontSize": 8.5, "labelBaseline": "middle"}}},
     "layer": [
      {"mark": {"type": "rect", "fill": "white", "stroke": "#000", "strokeWidth": 1.5}},
      {"mark": {"type": "text", "fontSize": 6.5, "color": "#000"}, "encoding": {"text": {"field": "n"}}}
     ]}
   ]},
  {"title": {"text": "d", "anchor": "start", "fontSize": 18, "fontWeight": "bold", "dx": 22, "dy": 16, "offset": 0},
   "spacing": 0,
   "resolve": {"scale": {"x": "independent", "y": "independent", "color": "independent", "stroke": "independent"}},
   "vconcat": [
    {"width": 250, "height": 224,
     "title": {"text": ["Healthy ATAC-seq", "(ENCODE)"], "fontSize": 20, "fontStyle": "italic", "fontWeight": "bold", "lineHeight": 23, "anchor": "middle", "frame": "group", "dx": 10, "offset": 27},
     "resolve": {"axis": {"y": "independent"}},
     "layer": [
      {"data": {"name": "thr"}, "mark": {"type": "rule", "strokeDash": [3,3], "strokeWidth": 1.2, "color": "#000"},
       "encoding": {"y": {"field": "y", "type": "quantitative", "axis": null}}},
      {"data": {"name": "dBars"}, "mark": {"type": "bar", "fill": "white", "strokeWidth": 1.5},
       "encoding": {
        "x": {"field": "s", "type": "nominal", "scale": {"domain": ["Brain","Thyroid","Adrenal","Mucosal Epithelium","Testes","GU","GI","Breast","Liver","Lung","Uterus","Kidney"], "paddingInner": 0.22, "paddingOuter": 0.11}, "axis": null},
        "y": {"field": "m", "type": "quantitative", "scale": {"domain": [0, 26.2], "nice": false}, "axis": {"values": [5,10,15,20,25], "title": null, "labelFontSize": 7.5, "tickSize": 3, "labelPadding": 2, "domainWidth": 1.2}},
        "stroke": {"field": "s", "type": "nominal", "scale": {"domain": ["Adrenal","Mucosal Epithelium","Liver","Kidney","Thyroid","GI","GU","Lung","Skin","Breast","Uterus","Testes","Brain"], "range": ["#1f77b4","#aec7e8","#ff7f0e","#ffbb78","#2ca02c","#98df8a","#d62728","#ff9896","#9467bd","#c5b0d5","#8c564b","#c49c94","#e377c2"]}, "legend": null}}},
      {"data": {"name": "dDots"}, "mark": {"type": "circle", "size": 6, "opacity": 0.9},
       "encoding": {
        "x": {"field": "s", "type": "nominal", "axis": null},
        "y": {"field": "v", "type": "quantitative", "axis": null},
        "color": {"field": "s", "type": "nominal", "scale": {"domain": ["Adrenal","Mucosal Epithelium","Liver","Kidney","Thyroid","GI","GU","Lung","Skin","Breast","Uterus","Testes","Brain"], "range": ["#1f77b4","#aec7e8","#ff7f0e","#ffbb78","#2ca02c","#98df8a","#d62728","#ff9896","#9467bd","#c5b0d5","#8c564b","#c49c94","#e377c2"]}, "legend": null}}},
      {"data": {"name": "dBars"}, "mark": {"type": "rule", "strokeWidth": 1.2},
       "encoding": {"x": {"field": "s", "type": "nominal", "axis": null}, "y": {"field": "lo", "type": "quantitative", "axis": null}, "y2": {"field": "hi"}, "color": {"field": "s", "type": "nominal", "legend": null}}},
      {"data": {"name": "dBars"}, "mark": {"type": "tick", "size": 4, "thickness": 1.2},
       "encoding": {"x": {"field": "s", "type": "nominal", "axis": null}, "y": {"field": "lo", "type": "quantitative", "axis": null}, "color": {"field": "s", "type": "nominal", "legend": null}}},
      {"data": {"name": "dBars"}, "mark": {"type": "tick", "size": 4, "thickness": 1.2},
       "encoding": {"x": {"field": "s", "type": "nominal", "axis": null}, "y": {"field": "hi", "type": "quantitative", "axis": null}, "color": {"field": "s", "type": "nominal", "legend": null}}}
     ]},
    {"width": 250, "height": 22, "data": {"name": "dBars"},
     "encoding": {
      "x": {"field": "s", "type": "nominal", "scale": {"domain": ["Brain","Thyroid","Adrenal","Mucosal Epithelium","Testes","GU","GI","Breast","Liver","Lung","Uterus","Kidney"], "paddingInner": 0, "paddingOuter": 0}, "axis": {"labelAngle": -45, "labelFontSize": 8, "title": "Tissue-of-origin", "titleFontSize": 13, "titleY": 43, "domain": false, "tickSize": 4, "labelPadding": 2}},
      "y": {"datum": "n Datasets", "type": "nominal", "scale": {"paddingInner": 0, "paddingOuter": 0}, "axis": {"title": null, "tickBand": "extent", "offset": 49, "tickSize": -49, "tickWidth": 1.5, "domain": true, "domainWidth": 1.5, "labelAlign": "center", "labelPadding": 25.5, "labelFontSize": 9, "labelBaseline": "middle"}}},
     "layer": [
      {"mark": {"type": "rect", "fill": "white", "stroke": "#000", "strokeWidth": 1.5}},
      {"mark": {"type": "text", "fontSize": 9, "color": "#000"}, "encoding": {"text": {"field": "n"}}}
     ]}
   ]}
 ], "spacing": 35,
 "resolve": {"scale": {"x": "independent", "y": "independent", "color": "independent", "stroke": "independent"}}}
],
"spacing": 12,
"resolve": {"scale": {"x": "independent", "y": "independent", "color": "independent", "stroke": "independent"}}
}
